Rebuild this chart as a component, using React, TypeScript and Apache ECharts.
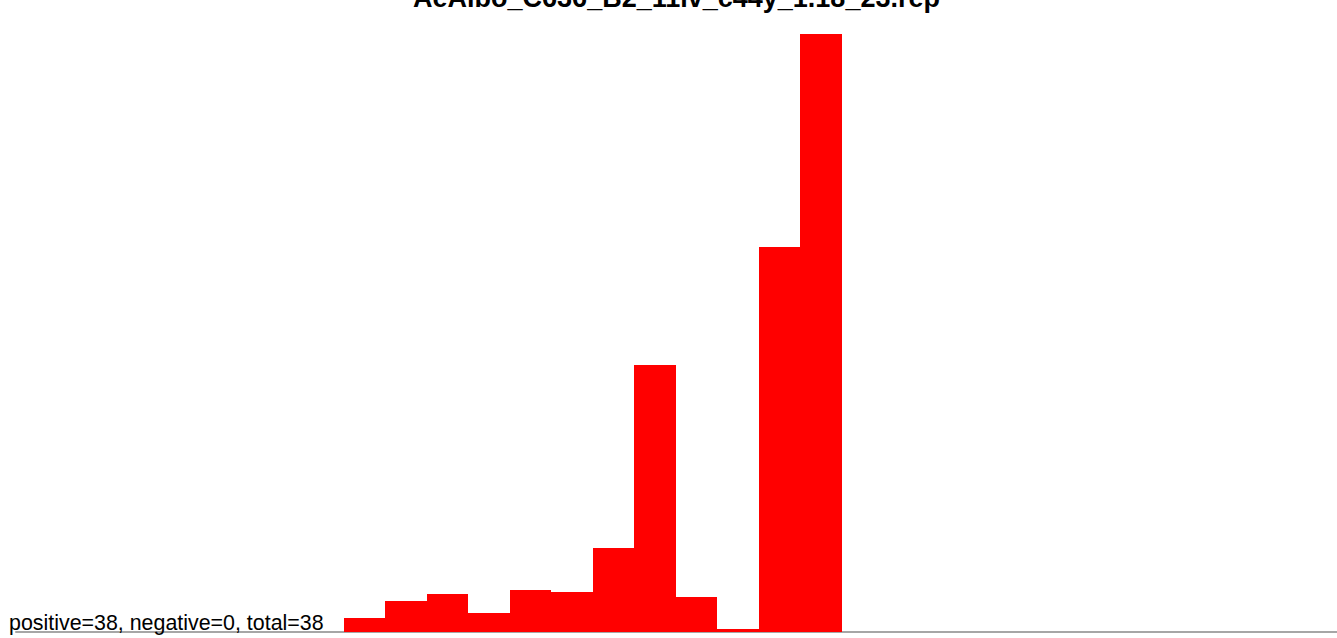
import React, { useEffect, useRef } from "react";
import * as echarts from "echarts";

const titleText = "AeAlbo_C636_B2_11iv_c44y_1.18_23.rep";
const footerText = "positive=38, negative=0, total=38";
// bin indices (0-based) and bar heights
const bins = [0, 1, 2, 3, 4, 5, 6, 7, 8, 9, 10, 11];
const values = [14, 31, 38, 19, 42, 40, 84, 267, 35, 3, 385, 598];
const xMin = -7.9;
const xMax = 23.93;
const yMax = 600;

export default function App() {
  const ref = useRef<HTMLDivElement>(null);
  useEffect(() => {
    if (!ref.current) return;
    const chart = echarts.init(ref.current, null, { renderer: "svg" });
    const data = bins.map((b, i) => [b, values[i]]);
    chart.setOption({
      animation: false,
      backgroundColor: "#ffffff",
      grid: { left: 16, right: 0, top: 32, bottom: 6, containLabel: false },
      xAxis: {
        type: "value",
        min: xMin,
        max: xMax,
        axisLine: { show: true, onZero: false, lineStyle: { color: "#a6a6a6", width: 2 } },
        axisTick: { show: false },
        axisLabel: { show: false },
        splitLine: { show: false },
      },
      yAxis: {
        type: "value",
        min: 0,
        max: yMax,
        show: false,
        splitLine: { show: false },
      },
      series: [
        {
          type: "custom",
          z: 1,
          data,
          renderItem: (params: any, api: any) => {
            const x = api.value(0);
            const v = api.value(1);
            const p0 = api.coord([x, v]);
            const p1 = api.coord([x + 1, 0]);
            const x0 = Math.round(p0[0]);
            const x1 = Math.round(p1[0]);
            const y0 = Math.round(p0[1]);
            const y1 = Math.round(p1[1]);
            return {
              type: "rect",
              shape: { x: x0, y: y0, width: x1 - x0, height: y1 - y0 },
              style: { fill: "#ff0000" },
            };
          },
        },
      ],
      graphic: [
        {
          type: "text",
          x: 676.5,
          y: -2,
          z: 10,
          style: {
            text: titleText,
            fontFamily: "Liberation Sans, Arial, sans-serif",
            fontWeight: "bold",
            fontSize: 27,
            fill: "#000000",
            align: "center",
            verticalAlign: "middle",
          },
        },
        {
          type: "text",
          x: 9,
          y: 623,
          z: 10,
          style: {
            text: footerText,
            fontFamily: "Liberation Sans, Arial, sans-serif",
            fontSize: 21.4,
            fill: "#000000",
            align: "left",
            verticalAlign: "middle",
          },
        },
      ],
    });
    return () => chart.dispose();
  }, []);
  return (
    <div
      ref={ref}
      style={{ position: "fixed", left: 0, top: 0, width: "1337px", height: "638px" }}
    />
  );
}
